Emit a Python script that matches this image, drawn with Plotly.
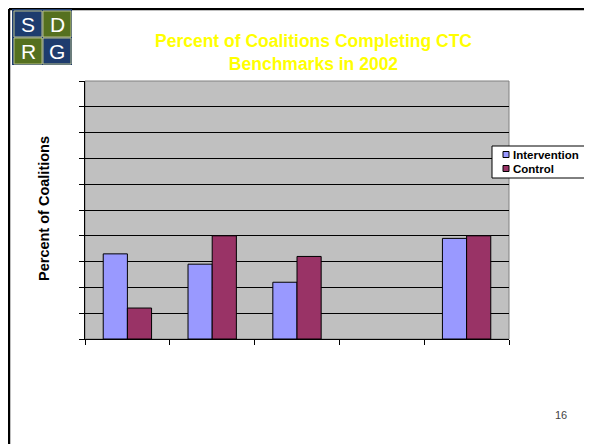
import plotly.graph_objects as go

categories = ["Benchmark 1", "Benchmark 2", "Benchmark 3", "Benchmark 4", "Benchmark 5"]
intervention = [33, 29, 22, None, 39]
control = [12, 40, 32, None, 40]
series_names = ["Intervention", "Control"]
series_colors = ["#9999FF", "#993366"]
title_lines = ["Percent of Coalitions Completing CTC", "Benchmarks in 2002"]
y_title = "Percent of Coalitions"
page_number = "16"

W, H = 592, 444
OFF = 8  # page body margin offset in the screenshot
# plot area in screen coordinates
SL, SR, ST, SB = 85, 509, 81, 339
L, R, T, B = SL - OFF, SR - OFF, ST - OFF, SB - OFF


def px(x):
    return (x - SL) / (SR - SL)


def py(y):
    return (SB - y) / (SB - ST)


FONT = "Liberation Sans, Arial, sans-serif"

fig = go.Figure()
for name, vals, col in zip(series_names, [intervention, control], series_colors):
    fig.add_trace(go.Bar(x=categories, y=vals, name=name, showlegend=False,
                         marker=dict(color=col, line=dict(color="black", width=1))))

shapes = []
# slide border lines
shapes.append(dict(type="line", xref="paper", yref="paper", x0=px(9), x1=px(W + 20), y0=py(9), y1=py(9),
                   line=dict(color="black", width=2.5), layer="above"))
shapes.append(dict(type="line", xref="paper", yref="paper", x0=px(9), x1=px(9), y0=py(9), y1=py(H + 20),
                   line=dict(color="black", width=2.5), layer="above"))
# plot area border (grey)
shapes.append(dict(type="rect", xref="paper", yref="paper", x0=0, x1=1, y0=0, y1=1,
                   line=dict(color="#808080", width=1), layer="below"))
# logo
navy = "#1E3C6E"
green = "#55701F"
shapes.append(dict(type="rect", xref="paper", yref="paper", x0=px(12), x1=px(72), y0=py(9), y1=py(65),
                   fillcolor=navy, line=dict(width=0), layer="above"))
cells = [((14, 11, 42, 37), navy), ((43, 11, 71, 37), green),
         ((14, 38, 42, 64), green), ((43, 38, 71, 64), navy)]
for (x0, y0, x1, y1), c in cells:
    shapes.append(dict(type="rect", xref="paper", yref="paper", x0=px(x0), x1=px(x1), y0=py(y0), y1=py(y1),
                       fillcolor=c, line=dict(color="#B8BE8A", width=1), layer="above"))

annotations = []
for letter, (cx, cy) in zip(["S", "D", "R", "G"], [(28, 24), (57, 24), (28, 51), (57, 51)]):
    annotations.append(dict(text=letter, xref="paper", yref="paper", x=px(cx), y=py(cy),
                            showarrow=False, xanchor="center", yanchor="middle",
                            font=dict(family=FONT, size=21, color="white")))
annotations.append(dict(text="<b>" + title_lines[0] + "<br>" + title_lines[1] + "</b>",
                        xref="paper", yref="paper", x=px(313), y=py(52),
                        showarrow=False, xanchor="center", yanchor="middle",
                        font=dict(family=FONT, size=17.5, color="#FFFF00")))
annotations.append(dict(text="<b>" + y_title + "</b>", xref="paper", yref="paper",
                        x=px(44), y=py(209), textangle=-90, showarrow=False,
                        xanchor="center", yanchor="middle",
                        font=dict(family=FONT, size=14.5, color="black")))
annotations.append(dict(text=page_number, xref="paper", yref="paper", x=px(561), y=py(415),
                        showarrow=False, xanchor="center", yanchor="middle",
                        font=dict(family=FONT, size=11, color="#444444")))

# legend (drawn to match the original's compact box)
shapes.append(dict(type="rect", xref="paper", yref="paper", x0=px(492), x1=px(600), y0=py(146), y1=py(178),
                   fillcolor="white", line=dict(color="black", width=1), layer="above"))
for i, (name, col) in enumerate(zip(series_names, series_colors)):
    cy = 154.5 + i * 14
    shapes.append(dict(type="rect", xref="paper", yref="paper", x0=px(503), x1=px(509),
                       y0=py(cy - 3), y1=py(cy + 3), fillcolor=col,
                       line=dict(color="black", width=1), layer="above"))
    annotations.append(dict(text="<b>" + name + "</b>", xref="paper", yref="paper",
                            x=px(511), y=py(cy), showarrow=False, xanchor="left", yanchor="middle",
                            font=dict(family=FONT, size=11.5, color="black")))

fig.update_layout(
    width=W, height=H,
    margin=dict(l=L, r=W - R, t=T, b=H - B, pad=0, autoexpand=False),
    paper_bgcolor="white", plot_bgcolor="#C0C0C0",
    barmode="group", bargap=0.43, bargroupgap=0,
    showlegend=False,
    shapes=shapes, annotations=annotations,
    font=dict(family=FONT),
)
fig.update_xaxes(type="category", tickson="boundaries", ticks="outside", ticklen=5,
                 tickcolor="black", showticklabels=False, showgrid=False,
                 showline=True, linecolor="black", linewidth=1, fixedrange=True)
fig.update_yaxes(range=[0, 100], dtick=10, ticks="outside", ticklen=5, tickcolor="black",
                 showticklabels=False, showgrid=True, gridcolor="black", gridwidth=1,
                 showline=True, linecolor="black", linewidth=1, zeroline=False, fixedrange=True)

fig.write_html("out.html")
